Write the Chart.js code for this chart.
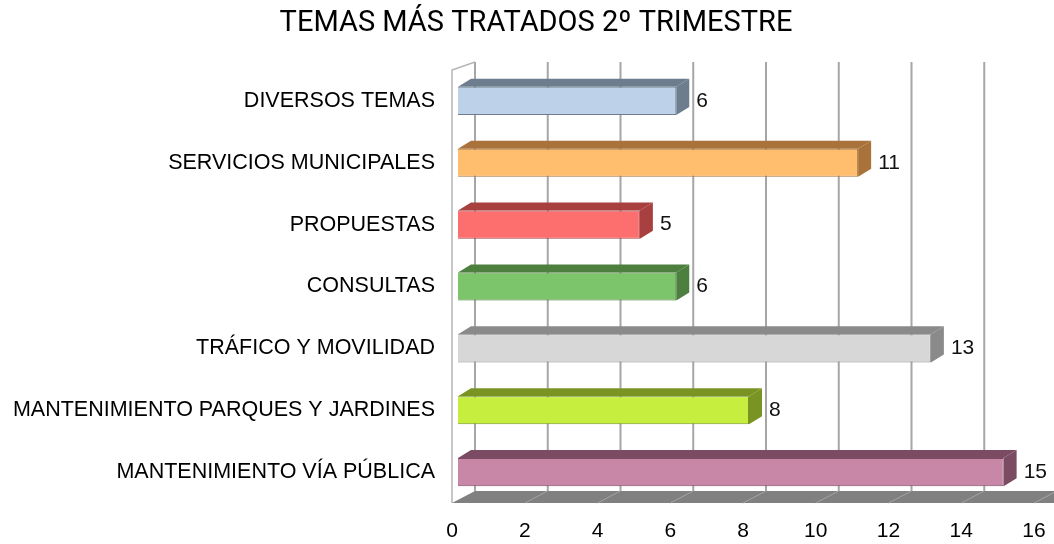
<!DOCTYPE html>
<html>
<head>
<meta charset="utf-8">
<script src="https://cdn.jsdelivr.net/npm/chart.js@4.4.1/dist/chart.umd.min.js"></script>
<style>
  html, body { margin: 0; padding: 0; background: #fff; }
  #wrap { width: 1054px; height: 544px; }
</style>
</head>
<body>
<div id="wrap"><canvas id="temasChart"></canvas></div>
<script>
// data
const categories = [
    'DIVERSOS TEMAS',
    'SERVICIOS MUNICIPALES',
    'PROPUESTAS',
    'CONSULTAS',
    'TRÁFICO Y MOVILIDAD',
    'MANTENIMIENTO PARQUES Y JARDINES',
    'MANTENIMIENTO VÍA PÚBLICA'
];
const values = [6, 11, 5, 6, 13, 8, 15];
const frontColors = ['#bdd2e8', '#ffbd6e', '#fd6f6f', '#7cc56a', '#d7d7d7', '#c6ee3f', '#c987a8'];
const shadeColors = ['#6d7d8e', '#a8723a', '#a84040', '#4d7f3f', '#8a8a8a', '#7a9424', '#7a4b62'];
const titleText = 'TEMAS MÁS TRATADOS 2º TRIMESTRE';

// 3d look: back wall / floor offsets relative to the bar front face
const BACK_DX = 17, FRONT_DX = -6;
const WALL_TOP = 62, FLOOR_BACK = 491;
const BAR_DX = 13, BAR_DY = -8;

const fake3d = {
    id: 'fake3d',
    beforeDatasetsDraw(chart) {
        const {ctx, chartArea, scales: {x}} = chart;
        const x0f = x.getPixelForValue(0) + FRONT_DX;
        const x0b = x.getPixelForValue(0) + BACK_DX;
        const bottom = chartArea.bottom;
        ctx.save();
        // back wall grid lines
        ctx.strokeStyle = '#a6a6a6';
        ctx.lineWidth = 2;
        x.ticks.forEach(t => {
            const px = x.getPixelForValue(t.value) + BACK_DX;
            ctx.beginPath();
            ctx.moveTo(px, WALL_TOP);
            ctx.lineTo(px, FLOOR_BACK);
            ctx.stroke();
        });
        // left wall outline
        ctx.strokeStyle = '#b5b5b5';
        ctx.lineWidth = 1.5;
        ctx.beginPath();
        ctx.moveTo(x0f, bottom);
        ctx.lineTo(x0f, chartArea.top);
        ctx.lineTo(x0b, WALL_TOP);
        ctx.stroke();
        // floor
        const xEndF = chart.width + 10;
        ctx.fillStyle = '#808080';
        ctx.beginPath();
        ctx.moveTo(x0f, bottom);
        ctx.lineTo(xEndF, bottom);
        ctx.lineTo(xEndF, FLOOR_BACK);
        ctx.lineTo(x0b, FLOOR_BACK);
        ctx.closePath();
        ctx.fill();
        ctx.strokeStyle = '#a3a3a3';
        ctx.lineWidth = 1;
        x.ticks.forEach(t => {
            if (t.value === 0) return;
            const p = x.getPixelForValue(t.value);
            ctx.beginPath();
            ctx.moveTo(p + FRONT_DX, bottom);
            ctx.lineTo(p + BACK_DX, FLOOR_BACK);
            ctx.stroke();
        });
        ctx.restore();
    },
    afterDatasetsDraw(chart) {
        const {ctx} = chart;
        const meta = chart.getDatasetMeta(0);
        ctx.save();
        meta.data.forEach((bar, i) => {
            const top = bar.y - bar.height / 2;
            const bot = bar.y + bar.height / 2;
            ctx.fillStyle = shadeColors[i];
            // top face
            ctx.beginPath();
            ctx.moveTo(bar.base, top);
            ctx.lineTo(bar.x, top);
            ctx.lineTo(bar.x + BAR_DX, top + BAR_DY);
            ctx.lineTo(bar.base + BAR_DX, top + BAR_DY);
            ctx.closePath();
            ctx.fill();
            // side face
            ctx.beginPath();
            ctx.moveTo(bar.x, top);
            ctx.lineTo(bar.x + BAR_DX, top + BAR_DY);
            ctx.lineTo(bar.x + BAR_DX, bot + BAR_DY);
            ctx.lineTo(bar.x, bot);
            ctx.closePath();
            ctx.fill();
            // value label
            ctx.fillStyle = '#111';
            ctx.font = '21px "Liberation Sans", Arial, sans-serif';
            ctx.textAlign = 'left';
            ctx.textBaseline = 'middle';
            ctx.fillText(String(values[i]), bar.x + BAR_DX + 7, bar.y);
        });
        ctx.restore();
    },
    afterDraw(chart) {
        const {ctx} = chart;
        ctx.save();
        ctx.fillStyle = '#000';
        ctx.font = '29px Roboto, sans-serif';
        ctx.textAlign = 'center';
        ctx.textBaseline = 'middle';
        ctx.fillText(titleText, 536, 24);
        ctx.restore();
    }
};

const ctx = document.getElementById('temasChart').getContext('2d');
new Chart(ctx, {
    type: 'bar',
    data: {
        labels: categories,
        datasets: [{
            data: values,
            backgroundColor: frontColors,
            borderColor: shadeColors,
            borderWidth: 1,
            categoryPercentage: 1,
            barPercentage: 0.455
        }]
    },
    plugins: [fake3d],
    options: {
        indexAxis: 'y',
        responsive: true,
        maintainAspectRatio: false,
        animation: false,
        layout: {padding: {left: 0, right: 14, top: 70, bottom: 0}},
        plugins: {
            legend: {display: false},
            tooltip: {enabled: false},
            title: {display: false}
        },
        scales: {
            x: {
                min: 0,
                max: 16,
                ticks: {
                    stepSize: 2,
                    color: '#000',
                    padding: 16,
                    labelOffset: FRONT_DX,
                    font: {family: 'Liberation Sans', size: 21}
                },
                grid: {display: false, drawTicks: false},
                border: {display: false},
                afterFit(scale) {
                    scale.height = 41;
                    scale.paddingLeft = 0;
                    scale.paddingRight = 0;
                }
            },
            y: {
                ticks: {
                    color: '#000',
                    padding: 23,
                    font: {family: 'Liberation Sans', size: 21.5}
                },
                grid: {display: false, drawTicks: false},
                border: {display: false},
                afterFit(scale) { scale.width = 458; }
            }
        }
    }
});
</script>
</body>
</html>
